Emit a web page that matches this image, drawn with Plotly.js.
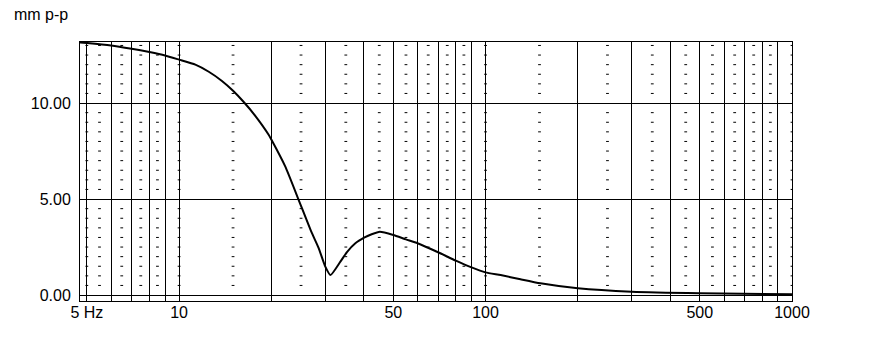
<!DOCTYPE html>
<html>
<head>
<meta charset="utf-8">
<script src="https://cdn.plot.ly/plotly-3.0.1.min.js"></script>
<style>html,body{margin:0;padding:0;background:#fff;}#chart{width:871px;height:356px;}</style>
</head>
<body>
<div id="chart"></div>
<script>
// Curve data: frequency (Hz) and amplitude (mm p-p)
const freq = [4.75, 5, 6, 7, 8, 9, 10, 11.3, 12.5, 13.8, 15, 16.2, 17.7, 19.6, 20, 22.2, 24.5, 27, 28.5, 30, 31.2, 33.6, 35.3, 37.6, 40.3, 42.5, 45.2, 50, 55, 60, 70, 80, 90, 100, 112, 130, 151, 200, 300, 500, 1000];
const amp  = [13.16, 13.13, 13.0, 12.83, 12.66, 12.48, 12.26, 12.0, 11.63, 11.15, 10.64, 10.08, 9.35, 8.35, 8.1, 6.7, 5.0, 3.3, 2.47, 1.48, 1.04, 1.74, 2.24, 2.7, 3.0, 3.17, 3.3, 3.13, 2.9, 2.7, 2.23, 1.79, 1.44, 1.18, 1.04, 0.82, 0.61, 0.35, 0.17, 0.09, 0.04];

// Axis ticks
const solidFreqs = [5, 6, 7, 8, 9, 10, 20, 30, 40, 50, 60, 70, 80, 90, 100, 200, 300, 400, 500, 600, 700, 800, 900, 1000];
const tickLabels = {5: "5 Hz", 10: "10", 50: "50", 100: "100", 500: "500", 1000: "1000"};
const yTicks = [0, 5, 10];

// Dotted grid columns and their dash levels
const dotFreqs = [5, 5.5, 6.5, 7.5, 8.5, 10, 15, 25, 35, 45, 55, 65, 75, 85, 100, 150, 250, 350, 450, 550, 650, 750, 850, 1000];
const dotLevels = [0.5, 1, 1.5, 2, 2.5, 3, 3.5, 4, 4.5, 5.5, 6, 6.5, 7, 7.5, 8, 8.5, 9, 9.5, 10.5, 11, 11.5, 12, 12.5, 13];

const dx = [], dy = [];
dotFreqs.forEach(f => dotLevels.forEach(v => { dx.push(f); dy.push(v); }));

const traces = [
  {
    x: dx, y: dy, type: 'scatter', mode: 'markers', hoverinfo: 'skip',
    marker: {symbol: 'line-ew', size: 2, color: '#000', line: {color: '#000', width: 1}}
  },
  {
    x: freq, y: amp, type: 'scatter', mode: 'lines', hoverinfo: 'skip',
    line: {color: '#000', width: 2, shape: 'spline', smoothing: 0.5}
  }
];

const layout = {
  width: 871, height: 356,
  margin: {l: 80, r: 79, t: 42, b: 55, pad: 0},
  paper_bgcolor: '#fff', plot_bgcolor: '#fff',
  showlegend: false,
  font: {family: 'Liberation Sans, Arial, sans-serif', size: 16, color: '#000'},
  xaxis: {
    type: 'log', range: [Math.log10(4.75), 3],
    tickmode: 'array', tickvals: solidFreqs,
    ticktext: solidFreqs.map(f => tickLabels[f] || ''),
    showgrid: true, gridcolor: '#000', gridwidth: 1,
    showline: true, linecolor: '#000', linewidth: 1, mirror: true,
    ticks: '', ticklabelstandoff: -3, zeroline: false, fixedrange: true
  },
  yaxis: {
    range: [-0.31, 13.18],
    tickmode: 'array', tickvals: yTicks, tickformat: '.2f',
    showgrid: true, gridcolor: '#000', gridwidth: 1,
    showline: true, linecolor: '#000', linewidth: 1, mirror: true,
    ticks: '', ticklabelstandoff: 5, zeroline: false, fixedrange: true
  },
  annotations: [{
    text: 'mm p-p', xref: 'paper', yref: 'paper',
    x: -0.0955, y: 1.108, xanchor: 'left', yanchor: 'middle',
    showarrow: false, font: {size: 16, color: '#000'}
  }]
};

Plotly.newPlot('chart', traces, layout, {displayModeBar: false, staticPlot: true});
</script>
</body>
</html>
